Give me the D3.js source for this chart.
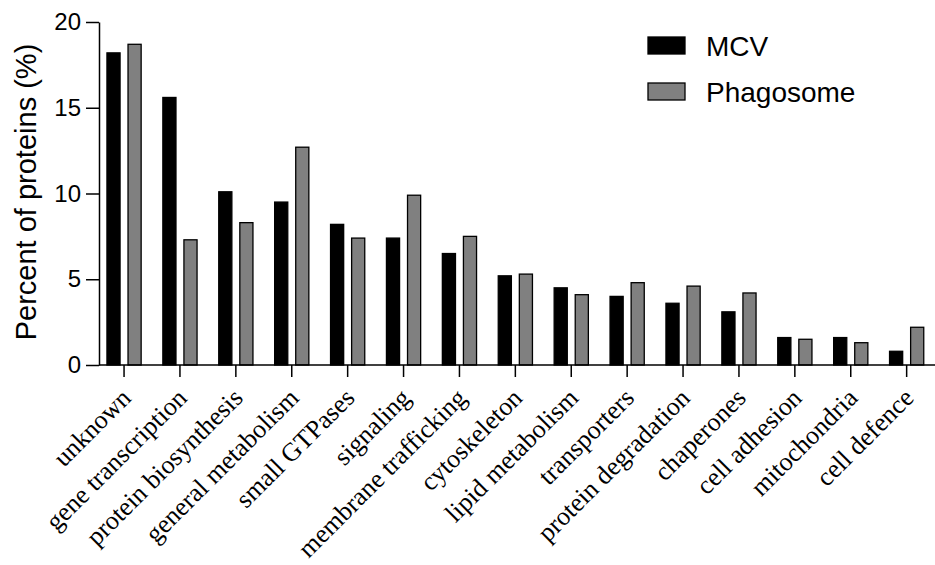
<!DOCTYPE html>
<html>
<head>
<meta charset="utf-8">
<script src="https://cdn.jsdelivr.net/npm/d3@7"></script>
<style>
  html, body { margin: 0; padding: 0; background: #fff; }
  svg { display: block; }
</style>
</head>
<body>
<svg id="chart" width="935" height="565"></svg>
<script>
// Functional categories of identified proteins
const categories = [
  "unknown", "gene transcription", "protein biosynthesis", "general metabolism",
  "small GTPases", "signaling", "membrane trafficking", "cytoskeleton",
  "lipid metabolism", "transporters", "protein degradation", "chaperones",
  "cell adhesion", "mitochondria", "cell defence"
];
const seriesNames = ["MCV", "Phagosome"];
const mcvValues = [18.2, 15.6, 10.1, 9.5, 8.2, 7.4, 6.5, 5.2, 4.5, 4.0, 3.6, 3.1, 1.6, 1.6, 0.8];
const phagosomeValues = [18.7, 7.3, 8.3, 12.7, 7.4, 9.9, 7.5, 5.3, 4.1, 4.8, 4.6, 4.2, 1.5, 1.3, 2.2];
const yTicks = [0, 5, 10, 15, 20];

const seriesColors = { "MCV": "#000000", "Phagosome": "#808080" };
const valuesBySeries = { "MCV": mcvValues, "Phagosome": phagosomeValues };

const svg = d3.select("#chart");

const axisLeft = 99, axisRight = 935;
const plotTop = 22, plotBottom = 365;

const x0 = d3.scaleBand()
  .domain(categories)
  .range([96.1, 96.1 + 55.9 * categories.length])
  .padding(0);

const x1 = d3.scaleBand()
  .domain(seriesNames)
  .range([-17.6, 17.6])
  .paddingInner(0.33)
  .paddingOuter(0);

const y = d3.scaleLinear().domain([0, 20]).range([plotBottom, plotTop]);

const rows = categories.map((c, i) => ({
  category: c,
  values: seriesNames.map(s => ({ series: s, value: valuesBySeries[s][i] }))
}));

// Bars
const groups = svg.append("g").selectAll("g")
  .data(rows)
  .join("g")
  .attr("transform", d => `translate(${x0(d.category) + x0.bandwidth() / 2},0)`);

groups.selectAll("rect")
  .data(d => d.values)
  .join("rect")
  .attr("x", d => x1(d.series) + 0.5)
  .attr("width", x1.bandwidth() - 1)
  .attr("y", d => y(d.value))
  .attr("height", d => y(0) - y(d.value))
  .attr("fill", d => seriesColors[d.series])
  .attr("stroke", "#000")
  .attr("stroke-width", 1.3);

// Y axis
const yAxis = svg.append("g")
  .attr("transform", `translate(${axisLeft},0)`)
  .call(d3.axisLeft(y).tickValues(yTicks).tickSize(13).tickPadding(5).tickSizeOuter(0));
yAxis.select(".domain").attr("stroke-width", 1.5);
yAxis.selectAll(".tick line").attr("stroke-width", 1.5);
yAxis.selectAll(".tick text")
  .attr("font-family", "'Liberation Sans', Arial, sans-serif")
  .attr("font-size", 24)
  .attr("fill", "#000");

// X axis
const xAxis = svg.append("g")
  .attr("transform", `translate(0,${plotBottom})`)
  .call(d3.axisBottom(x0).tickSize(12).tickSizeOuter(0).tickFormat(""));
xAxis.select(".domain").remove();
xAxis.append("line")
  .attr("x1", axisLeft).attr("x2", axisRight)
  .attr("y1", 0).attr("y2", 0)
  .attr("stroke", "#000").attr("stroke-width", 1.5);
xAxis.selectAll(".tick line").attr("stroke-width", 1.5);

// Rotated category labels
svg.append("g").selectAll("text")
  .data(categories)
  .join("text")
  .attr("transform", d => `translate(${x0(d) + x0.bandwidth() / 2 + 2},${plotBottom + 28}) rotate(-45)`)
  .attr("text-anchor", "end")
  .attr("dy", "0.35em")
  .attr("font-family", "'Liberation Serif', 'Times New Roman', serif")
  .attr("font-size", 26)
  .attr("fill", "#000")
  .text(d => d);

// Y axis title
svg.append("text")
  .attr("transform", `translate(36,192) rotate(-90)`)
  .attr("text-anchor", "middle")
  .attr("font-family", "'Liberation Sans', Arial, sans-serif")
  .attr("font-size", 29)
  .attr("fill", "#000")
  .text("Percent of proteins (%)");

// Legend
const legend = svg.append("g");
const legendItems = legend.selectAll("g")
  .data(seriesNames)
  .join("g")
  .attr("transform", (d, i) => `translate(648,${37 + i * 46})`);
legendItems.append("rect")
  .attr("width", 37)
  .attr("height", 17)
  .attr("fill", d => seriesColors[d])
  .attr("stroke", "#000")
  .attr("stroke-width", 1.3);
legendItems.append("text")
  .attr("x", 58)
  .attr("y", 19)
  .attr("font-family", "'Liberation Sans', Arial, sans-serif")
  .attr("font-size", 28)
  .attr("fill", "#000")
  .text(d => d);
</script>
</body>
</html>
